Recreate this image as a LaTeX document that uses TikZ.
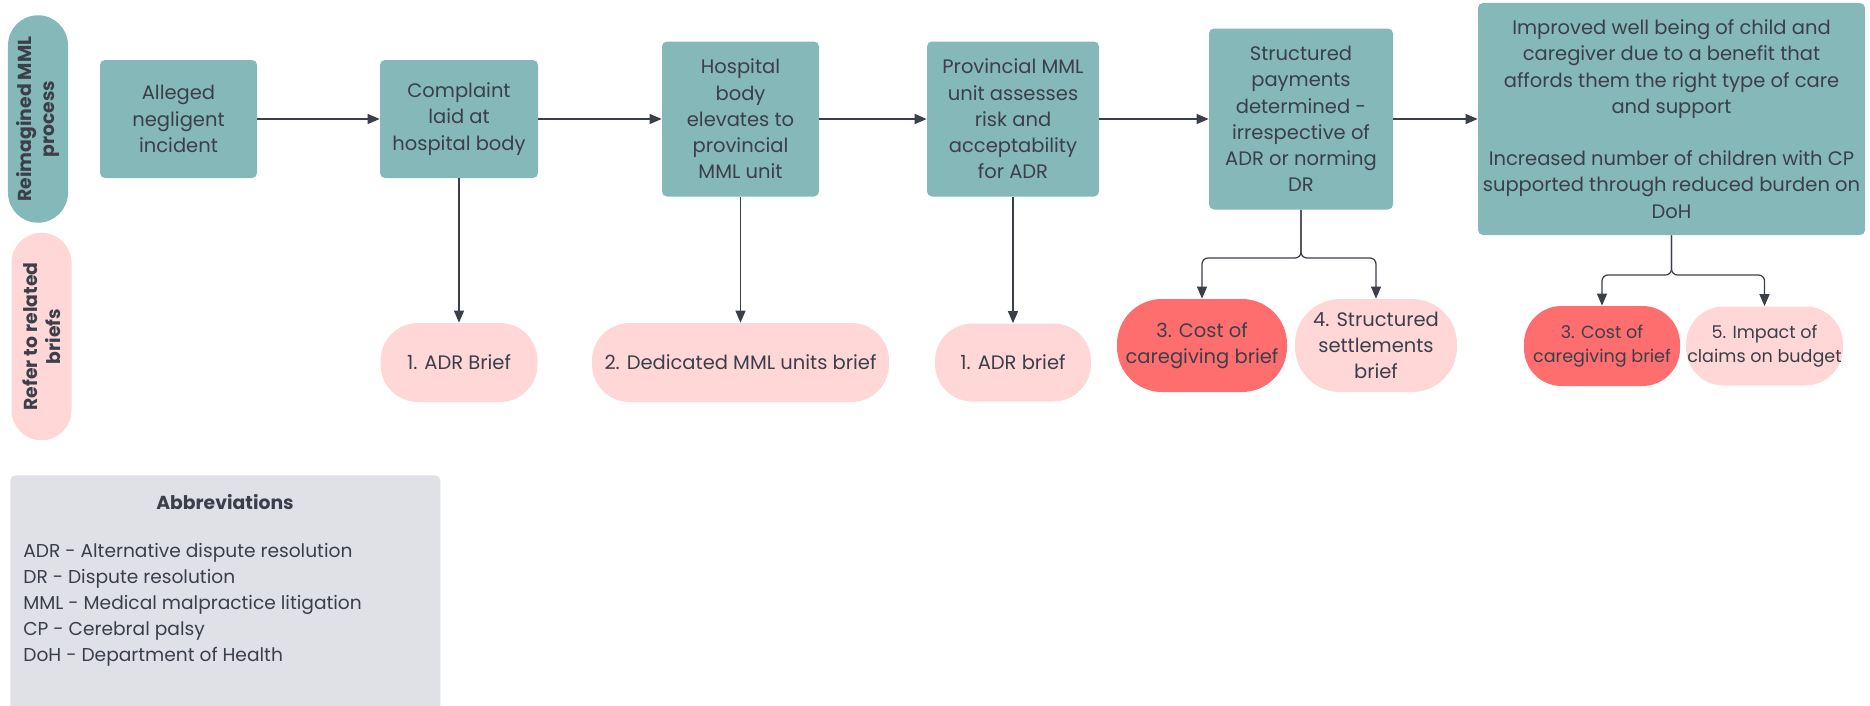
\documentclass[tikz,border=0pt]{standalone}
\usepackage{fontspec}
\setmainfont{Poppins}
\usetikzlibrary{arrows.meta}
\definecolor{boxteal}{HTML}{85B8B8}
\definecolor{briefpink}{HTML}{FFD7D7}
\definecolor{briefred}{HTML}{FF6E6E}
\definecolor{inkgrey}{HTML}{3B3F4A}
\definecolor{abbrgrey}{HTML}{DFE1E6}

\begin{document}
\begin{tikzpicture}[
    every node/.style={text=inkgrey, align=center, inner sep=0pt, font=\fontsize{11.1}{14.9}\selectfont},
    stepbox/.style={fill=boxteal, rounded corners=0.1cm},
    brief/.style={fill=briefpink, rounded corners=0.75cm},
    costbrief/.style={brief, fill=briefred},
    smallbrief/.style={font=\fontsize{10}{13.3}\selectfont},
    lane/.style={rounded corners=0.6cm, minimum width=4.15cm, minimum height=1.2cm, rotate=90,
        font=\bfseries\fontsize{10.7}{13}\selectfont},
    flow/.style={draw=inkgrey, line width=0.7pt, -{Triangle[length=0.24cm,width=0.2cm]}}
]
    \useasboundingbox (0,0) rectangle (37.4,14.1);

    \node[lane, fill=boxteal] (lanetop) at (0.76,11.72) {Reimagined MML\\process};
    \node[lane, fill=briefpink] (lanebrief) at (0.83,7.37) {Refer to related\\briefs};

    \node[stepbox, minimum width=3.14cm, minimum height=2.36cm] (incident) at (3.57,11.72) {Alleged\\negligent\\incident};
    \node[stepbox, minimum width=3.16cm, minimum height=2.36cm] (complaint) at (9.18,11.72) {Complaint\\laid at\\hospital body};
    \node[stepbox, minimum width=3.14cm, minimum height=3.1cm] (hospital) at (14.81,11.72) {Hospital\\body\\elevates to\\provincial\\MML unit};
    \node[stepbox, minimum width=3.44cm, minimum height=3.1cm] (provincial) at (20.26,11.72) {Provincial MML\\unit assesses\\risk and\\acceptability\\for ADR};
    \node[stepbox, minimum width=3.68cm, minimum height=3.62cm] (payments) at (26.02,11.72) {Structured\\payments\\determined -\\irrespective of\\ADR or norming\\DR};
    \node[stepbox, minimum width=7.74cm, minimum height=4.64cm] (outcome) at (33.43,11.72) {Improved well being of child and\\caregiver due to a benefit that\\affords them the right type of care\\and support\\[14.9pt]Increased number of children with CP\\supported through reduced burden on\\DoH};

    \node[brief, minimum width=3.14cm, minimum height=1.58cm] (adrbrief) at (9.18,6.85) {1. ADR Brief};
    \node[brief, minimum width=5.94cm, minimum height=1.58cm] (mmlbrief) at (14.81,6.85) {2. Dedicated MML units brief};
    \node[brief, minimum width=3.12cm, minimum height=1.56cm] (adrbriefb) at (20.26,6.85) {1. ADR brief};
    \node[costbrief, minimum width=3.4cm, minimum height=1.86cm, rounded corners=0.9cm] (costbrief) at (24.04,7.19) {3. Cost of\\caregiving brief};
    \node[brief, minimum width=3.24cm, minimum height=1.86cm, rounded corners=0.9cm] (settlebrief) at (27.52,7.19) {4. Structured\\settlements\\brief};
    \node[costbrief, smallbrief, minimum width=3.12cm, minimum height=1.6cm] (costbriefb) at (32.04,7.18) {3. Cost of\\caregiving brief};
    \node[brief, smallbrief, minimum width=3.14cm, minimum height=1.58cm] (budgetbrief) at (35.29,7.18) {5. Impact of\\claims on budget};

    \draw[flow] (incident) -- (complaint);
    \draw[flow] (complaint) -- (hospital);
    \draw[flow] (hospital) -- (provincial);
    \draw[flow] (provincial) -- (payments);
    \draw[flow] (payments) -- (outcome);

    \draw[flow] (complaint.south) -- (adrbrief.north);
    \draw[flow] (hospital.south) -- (mmlbrief.north);
    \draw[flow] (provincial.south) -- (adrbriefb.north);

    \coordinate (paysplit) at (26.02,8.94);
    \draw[flow, rounded corners=0.12cm] (payments.south) -- (paysplit) -| (costbrief.north);
    \draw[flow, rounded corners=0.12cm] (payments.south) -- (paysplit) -| (settlebrief.north);
    \coordinate (outsplit) at (33.43,8.6);
    \draw[flow, rounded corners=0.12cm] (outcome.south) -- (outsplit) -| (costbriefb.north);
    \draw[flow, rounded corners=0.12cm] (outcome.south) -- (outsplit) -| (budgetbrief.north);

    \node[fill=abbrgrey, rounded corners=0.1cm, minimum width=8.6cm, minimum height=4.8cm, anchor=north west] (abbrev) at (0.2,4.6) {};
    \node[font=\bfseries\fontsize{10.7}{13}\selectfont] (abbrevtitle) at (4.5,4.06) {Abbreviations};
    \node[align=left, anchor=west, font=\fontsize{10.6}{14.8}\selectfont] (abbrevlist) at (0.46,2.0) {ADR - Alternative dispute resolution\\DR - Dispute resolution\\MML - Medical malpractice litigation\\CP - Cerebral palsy\\DoH - Department of Health};
\end{tikzpicture}
\end{document}
